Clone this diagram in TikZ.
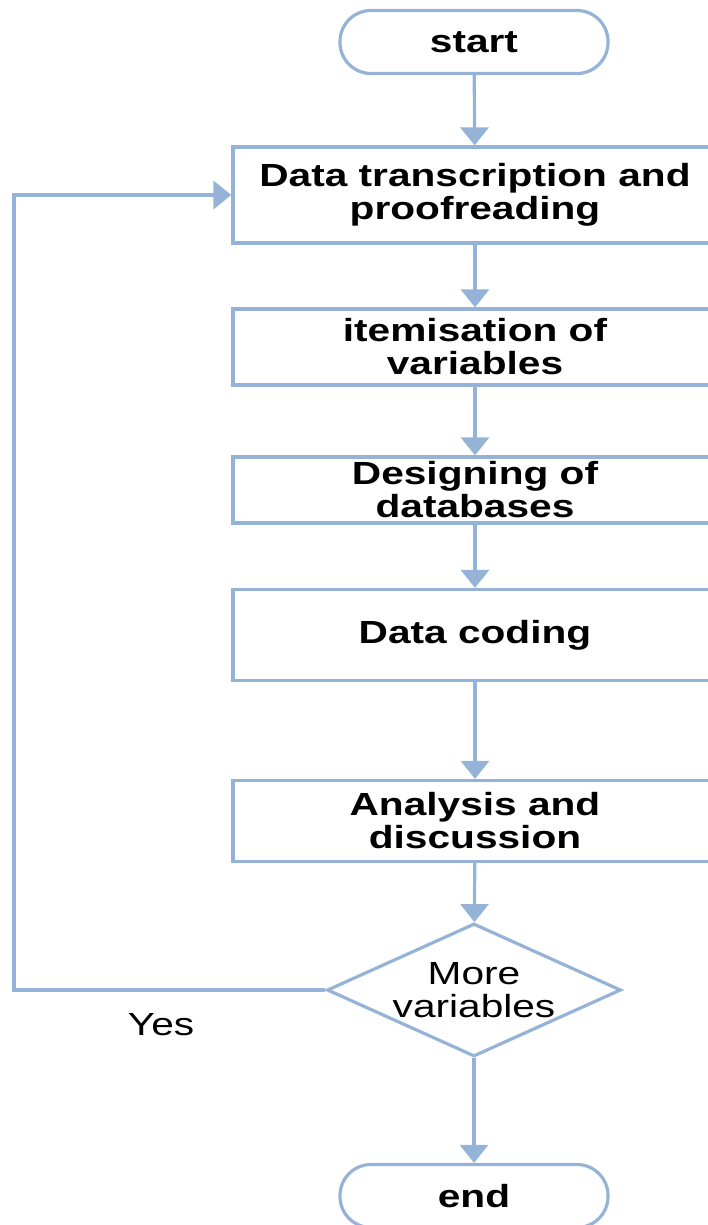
\documentclass[tikz,border=0pt]{standalone}
\usepackage{fontspec}
\newfontfamily\flowfont[FakeStretch=1.27]{Liberation Sans}
\usepackage{xcolor}
\definecolor{flowblue}{HTML}{95B3D7}
\usepackage{tikz}
\usetikzlibrary{arrows.meta,shapes.geometric}

\begin{document}
\begin{tikzpicture}[
  x=1pt,
  y=-1pt,
  step box/.style={rectangle, draw=flowblue, line width=3.2pt, minimum width=484pt, inner sep=0pt, align=center, font=\flowfont\fontsize{32}{33}\selectfont\bfseries},
  terminal/.style={rectangle, rounded corners=31pt, draw=flowblue, line width=3.2pt, minimum width=268pt, minimum height=63pt, font=\flowfont\fontsize{32}{33}\selectfont\bfseries},
  decision/.style={diamond, draw=flowblue, line width=3.2pt, minimum width=294pt, minimum height=133pt, inner sep=0pt},
  flowline/.style={draw=flowblue, line width=3.2pt, -{Triangle[width=28pt,length=18pt]}},
]
\useasboundingbox (0,0) rectangle (708,1225);

% Terminals and steps
\node[terminal] (start) at (474,42) {start};
\node[step box, minimum height=96pt] (transcr) at (475,195) {Data transcription and\\proofreading};
\node[step box, minimum height=76pt] (itemis) at (475,347) {itemisation of\\variables};
\node[step box, minimum height=66pt] (design) at (475,490) {Designing of\\databases};
\node[step box, minimum height=91pt] (coding) at (475,635) {Data coding};
\node[step box, minimum height=81pt] (analysis) at (475,821) {Analysis and\\discussion};
\node[decision, label={[align=center, font=\flowfont\fontsize{32}{33}\selectfont]center:More\\variables}] (more) at (474,990) {};
\node[terminal] (finish) at (474,1196) {end};

% Label of the loop
\node[font=\flowfont\fontsize{32}{33}\selectfont] (yes) at (161,1025) {Yes};

% Connectors
\draw[flowline] (start) -- (transcr);
\draw[flowline] (transcr) -- (itemis);
\draw[flowline] (itemis) -- (design);
\draw[flowline] (design) -- (coding);
\draw[flowline] (coding) -- (analysis);
\draw[flowline] (analysis) -- (more);
\draw[flowline] (more) -- (finish);

% Loop back
\coordinate (loop) at (14,990);
\draw[flowline] (more.west) -- (loop) |- (transcr.west);

\end{tikzpicture}
\end{document}
